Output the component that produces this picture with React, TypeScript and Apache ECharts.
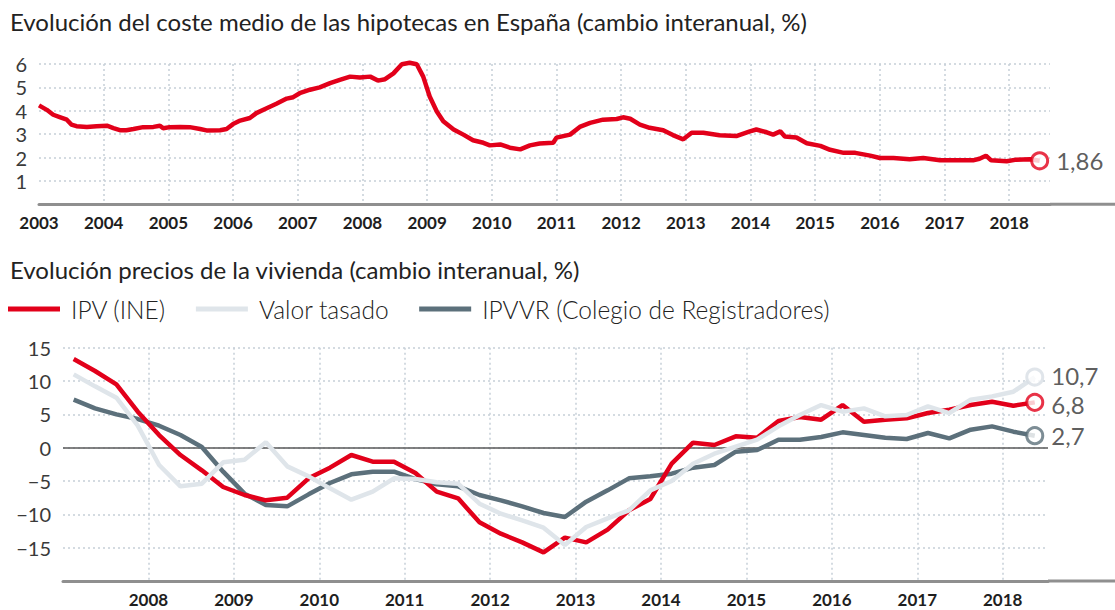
import React, { useEffect, useRef } from 'react';
import * as echarts from 'echarts';

// ---------- Data ----------
const topTitle = 'Evolución del coste medio de las hipotecas en España (cambio interanual, %)';
const bottomTitle = 'Evolución precios de la vivienda (cambio interanual, %)';

// Mortgage cost: decimal-year positions and yearly change (%)
const mortgageYears = [
  2003.00, 2003.12, 2003.22, 2003.32, 2003.43, 2003.50, 2003.58, 2003.74, 2003.89, 2004.05,
  2004.15, 2004.25, 2004.35, 2004.46, 2004.61, 2004.77, 2004.87, 2004.92, 2005.02, 2005.18,
  2005.33, 2005.49, 2005.59, 2005.80, 2005.90, 2006.00, 2006.11, 2006.26, 2006.36, 2006.52,
  2006.67, 2006.83, 2006.93, 2007.03, 2007.19, 2007.34, 2007.50, 2007.65, 2007.81, 2007.96,
  2008.12, 2008.24, 2008.35, 2008.48, 2008.61, 2008.73, 2008.84, 2008.94, 2009.04, 2009.15,
  2009.25, 2009.41, 2009.56, 2009.71, 2009.87, 2009.97, 2010.13, 2010.28, 2010.44, 2010.59,
  2010.74, 2010.95, 2011.00, 2011.21, 2011.36, 2011.52, 2011.72, 2011.93, 2012.03, 2012.14,
  2012.29, 2012.44, 2012.65, 2012.80, 2012.96, 2013.09, 2013.27, 2013.52, 2013.78, 2013.99,
  2014.09, 2014.25, 2014.35, 2014.46, 2014.53, 2014.71, 2014.87, 2015.08, 2015.23, 2015.44,
  2015.62, 2015.85, 2016.00, 2016.21, 2016.46, 2016.67, 2016.93, 2017.18, 2017.44, 2017.54,
  2017.64, 2017.72, 2017.96, 2018.11, 2018.32, 2018.47,
];
const mortgageRates = [
  4.23, 4.04, 3.83, 3.73, 3.62, 3.41, 3.34, 3.31, 3.34, 3.36,
  3.26, 3.17, 3.17, 3.22, 3.30, 3.31, 3.36, 3.25, 3.30, 3.31,
  3.30, 3.22, 3.16, 3.17, 3.22, 3.43, 3.58, 3.69, 3.90, 4.11,
  4.30, 4.52, 4.58, 4.75, 4.90, 5.00, 5.18, 5.32, 5.46, 5.42,
  5.46, 5.29, 5.35, 5.60, 5.99, 6.05, 5.99, 5.46, 4.61, 3.97,
  3.55, 3.20, 2.98, 2.74, 2.63, 2.52, 2.56, 2.42, 2.35, 2.52,
  2.60, 2.63, 2.85, 2.98, 3.31, 3.48, 3.62, 3.65, 3.72, 3.66,
  3.41, 3.27, 3.17, 2.96, 2.78, 3.06, 3.06, 2.95, 2.92, 3.12,
  3.20, 3.08, 2.98, 3.12, 2.90, 2.86, 2.61, 2.50, 2.33, 2.20,
  2.20, 2.08, 1.98, 1.98, 1.93, 1.98, 1.88, 1.88, 1.88, 1.95,
  2.08, 1.88, 1.84, 1.91, 1.93, 1.86,
];
const mortgageEndLabel = '1,86';

// Housing prices: quarterly
const quarters = [
  '2007-T1', '2007-T2', '2007-T3', '2007-T4', '2008-T1', '2008-T2', '2008-T3', '2008-T4',
  '2009-T1', '2009-T2', '2009-T3', '2009-T4', '2010-T1', '2010-T2', '2010-T3', '2010-T4',
  '2011-T1', '2011-T2', '2011-T3', '2011-T4', '2012-T1', '2012-T2', '2012-T3', '2012-T4',
  '2013-T1', '2013-T2', '2013-T3', '2013-T4', '2014-T1', '2014-T2', '2014-T3', '2014-T4',
  '2015-T1', '2015-T2', '2015-T3', '2015-T4', '2016-T1', '2016-T2', '2016-T3', '2016-T4',
  '2017-T1', '2017-T2', '2017-T3', '2017-T4', '2018-T1', '2018-T2',
];
const ipvIne = [
  13.3, 11.5, 9.5, 5.4, 1.9, -1.1, -3.4, -5.9, -7.1, -7.9,
  -7.5, -4.6, -3.0, -1.1, -2.1, -2.1, -3.8, -6.6, -7.6, -11.2,
  -12.9, -14.2, -15.7, -13.5, -14.2, -12.3, -9.4, -7.7, -2.4, 0.75,
  0.4, 1.7, 1.5, 4.0, 4.6, 4.2, 6.4, 3.9, 4.2, 4.4,
  5.2, 5.7, 6.4, 6.9, 6.3, 6.8,
];
const valorTasado = [
  11.0, 9.2, 7.5, 3.3, -2.6, -5.8, -5.4, -2.2, -1.8, 0.8,
  -2.8, -4.3, -6.1, -7.8, -6.6, -4.6, -4.7, -5.2, -5.4, -8.4,
  -9.9, -10.9, -12.0, -14.6, -11.9, -10.6, -9.4, -6.4, -5.0, -2.4,
  -0.9, 0.15, 1.2, 3.2, 4.9, 6.4, 5.4, 5.9, 4.7, 4.9,
  6.2, 5.2, 7.2, 7.7, 8.4, 10.6,
];
const ipvvr = [
  7.2, 5.9, 5.0, 4.3, 3.3, 1.9, 0.1, -3.6, -6.9, -8.6,
  -8.8, -7.0, -5.3, -4.0, -3.6, -3.6, -4.7, -5.5, -5.8, -7.1,
  -7.9, -8.8, -9.8, -10.4, -8.1, -6.4, -4.6, -4.3, -3.9, -3.0,
  -2.6, -0.6, -0.35, 1.2, 1.2, 1.6, 2.3, 1.9, 1.5, 1.3,
  2.2, 1.4, 2.7, 3.2, 2.4, 1.8,
];
const seriesNames = ['IPV (INE)', 'Valor tasado', 'IPVVR (Colegio de Registradores)'];
const housingEndLabels = ['6,8', '10,7', '2,7'];

// ---------- Styles ----------
const RED = '#e2001a';
const LIGHT = '#dfe5ea';
const SLATE = '#5c707b';
const GRID_COLOR = '#c6d0d8';
const AXIS_COLOR = '#8f8f8f';
const FONT = 'Lato';
const endLabelOffsets = [[0, 2], [0, -2], [0, 0]];

const quarterToYear = (q: string) => {
  const [y, t] = q.split('-T');
  return Number(y) + (Number(t) - 0.5) / 4;
};

const dotted = { color: GRID_COLOR, type: [2, 3] as any, width: 1.5 };

function buildOption() {
  const mortgageData = mortgageYears.map((x, i) => [x, mortgageRates[i]]);
  const qx = quarters.map(quarterToYear);
  const housing = [ipvIne, valorTasado, ipvvr];
  const colors = [RED, LIGHT, SLATE];
  const zs = [3, 4, 2];

  const xLabel = {
    fontFamily: FONT,
    fontWeight: 'bold' as const,
    fontSize: 17,
    color: '#1e1e1e',
    showMaxLabel: false,
  };
  const yLabel = { fontFamily: FONT, fontSize: 20, color: '#3a3a3a', margin: 12 };

  const endLabelStyle = {
    show: true,
    position: 'right' as const,
    distance: 7,
    fontFamily: FONT,
    fontWeight: 400 as any,
    fontSize: 24,
    lineHeight: 22,
    color: '#333',
  };

  const housingSeries: any[] = housing.map((vals, i) => ({
    name: seriesNames[i],
    type: 'line',
    xAxisIndex: 1,
    yAxisIndex: 1,
    data: qx.map((x, j) => [x, vals[j]]),
    symbol: 'none',
    color: colors[i],
    lineStyle: { color: colors[i], width: 4.5 },
    z: zs[i],
    ...(i === 2
      ? {
          markLine: {
            silent: true,
            symbol: 'none',
            label: { show: false },
            lineStyle: { color: '#5a5a5a', width: 1.5, type: 'solid' },
            data: [{ yAxis: 0 }],
            z: 1,
          },
        }
      : {}),
  }));

  const housingEnds: any[] = housing.map((vals, i) => ({
    type: 'scatter',
    xAxisIndex: 1,
    yAxisIndex: 1,
    data: [[qx[qx.length - 1], vals[vals.length - 1]]],
    symbol: 'circle',
    symbolSize: 16,
    itemStyle: { color: '#fff', borderColor: colors[i] === LIGHT ? '#d8dfe5' : colors[i], borderWidth: 3 },
    label: { ...endLabelStyle, offset: endLabelOffsets[i], formatter: () => housingEndLabels[i] },
    z: 10,
  }));

  return {
    animation: false,
    textStyle: { fontFamily: FONT },
    title: [
      {
        text: topTitle,
        left: 10,
        top: 9,
        padding: 0,
        textStyle: { fontFamily: FONT, fontSize: 24, fontWeight: 'normal', color: '#222' },
      },
      {
        text: bottomTitle,
        left: 10,
        top: 257,
        padding: 0,
        textStyle: { fontFamily: FONT, fontSize: 24, fontWeight: 'normal', color: '#222' },
      },
    ],
    legend: {
      data: seriesNames,
      left: 8,
      top: 296,
      padding: 0,
      icon: 'rect',
      itemWidth: 52,
      itemHeight: 5,
      itemGap: 30,
      textStyle: {
        fontFamily: FONT,
        fontSize: 24.5,
        fontWeight: 300,
        color: '#222',
        padding: [0, 0, 0, 6],
        lineHeight: 26,
      },
    },
    grid: [
      { left: 39, top: 64, width: 1011, height: 140.3 },
      { left: 63, top: 347.7, width: 985, height: 233.3 },
    ],
    xAxis: [
      {
        type: 'value',
        gridIndex: 0,
        min: 2003,
        max: 2018.63,
        interval: 1,
        axisLine: { show: true, onZero: false, lineStyle: { color: AXIS_COLOR, width: 3 } },
        axisTick: { show: false },
        axisLabel: {
          ...xLabel,
          margin: 10,
          formatter: (v: number) => (Number.isInteger(v) ? String(v) : ''),
        },
        splitLine: { show: true, showMinLine: false, showMaxLine: false, lineStyle: dotted },
      },
      {
        type: 'value',
        gridIndex: 1,
        min: 2007,
        max: 2018.53,
        interval: 1,
        axisLine: { show: true, onZero: false, lineStyle: { color: AXIS_COLOR, width: 3 } },
        axisTick: { show: false },
        axisLabel: {
          ...xLabel,
          margin: 10,
          formatter: (v: number) => (Number.isInteger(v) && v !== 2007 ? String(v) : ''),
        },
        splitLine: { show: true, showMinLine: false, showMaxLine: false, lineStyle: dotted },
      },
    ],
    yAxis: [
      {
        type: 'value',
        gridIndex: 0,
        min: 0,
        max: 6,
        interval: 1,
        axisLine: { show: false },
        axisTick: { show: false },
        axisLabel: { ...yLabel, formatter: (v: number) => (v === 0 ? '' : String(v)) },
        splitLine: { show: true, showMinLine: false, lineStyle: dotted },
      },
      {
        type: 'value',
        gridIndex: 1,
        min: -20,
        max: 15,
        interval: 5,
        axisLine: { show: false },
        axisTick: { show: false },
        axisLabel: {
          ...yLabel,
          formatter: (v: number) => (v === -20 ? '' : String(v).replace('-', '\u2212')),
        },
        splitLine: { show: true, showMinLine: false, lineStyle: dotted },
      },
    ],
    graphic: [
      {
        type: 'line',
        shape: { x1: 1050, y1: 204.3, x2: 1115, y2: 204.3 },
        style: { stroke: AXIS_COLOR, lineWidth: 3 },
        silent: true,
      },
      {
        type: 'line',
        shape: { x1: 1048, y1: 581, x2: 1115, y2: 581 },
        style: { stroke: AXIS_COLOR, lineWidth: 3 },
        silent: true,
      },
    ],
    series: [
      {
        name: 'Hipotecas',
        type: 'line',
        xAxisIndex: 0,
        yAxisIndex: 0,
        data: mortgageData,
        symbol: 'none',
        clip: false,
        lineStyle: { color: RED, width: 4.5 },
        z: 3,
      },
      {
        type: 'scatter',
        xAxisIndex: 0,
        yAxisIndex: 0,
        data: [[mortgageYears[mortgageYears.length - 1], mortgageRates[mortgageRates.length - 1]]],
        symbol: 'circle',
        symbolSize: 16,
        itemStyle: { color: '#fff', borderColor: RED, borderWidth: 3 },
        label: { ...endLabelStyle, formatter: () => mortgageEndLabel },
        z: 10,
      },
      ...housingSeries,
      ...housingEnds,
    ],
  };
}

export default function App() {
  const ref = useRef<HTMLDivElement>(null);
  useEffect(() => {
    document.body.style.margin = '0';
    const chart = echarts.init(ref.current as HTMLDivElement, null, { renderer: 'svg' });
    chart.setOption(buildOption() as any);
    return () => chart.dispose();
  }, []);
  return <div ref={ref} style={{ width: 1115, height: 610, background: '#fff' }} />;
}
